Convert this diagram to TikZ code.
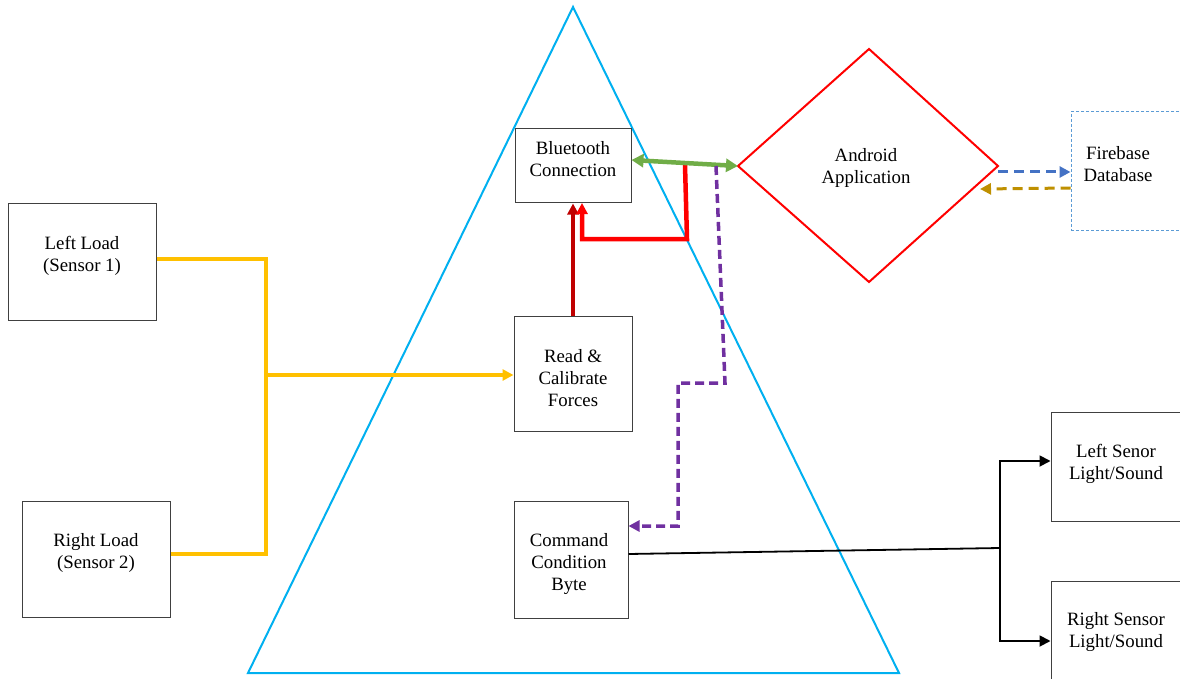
\documentclass[tikz,border=0pt]{standalone}
\usepackage{fontspec}
\setmainfont{Liberation Serif}
\usetikzlibrary{arrows.meta}
\definecolor{tricyan}{RGB}{0,176,240}
\definecolor{yel}{RGB}{255,192,0}
\definecolor{dred}{RGB}{192,0,0}
\definecolor{grn}{RGB}{112,173,71}
\definecolor{purp}{RGB}{112,48,160}
\definecolor{bl}{RGB}{68,114,196}
\definecolor{gold}{RGB}{191,144,0}
\definecolor{fbblue}{RGB}{91,155,213}
\tikzset{
  box/.style={draw=black!75, line width=1pt, inner sep=0pt, fill=none},
  txt/.style={font=\fontsize{18.8}{22}\selectfont, align=center, inner sep=0pt},
  tip/.style={-{Triangle[length=11pt,width=11pt]}},
}
\begin{document}
\begin{tikzpicture}[x=1pt,y=-1pt]
\useasboundingbox (0,0) rectangle (1180,679);
\clip (0,0) rectangle (1180,679);
\fill[white] (0,0) rectangle (1180,679);
% triangle
\draw[tricyan, line width=2pt] (573,7) -- (248,673) -- (899,673) -- cycle;
% boxes
\node[box, minimum width=116pt, minimum height=74pt] (bt) at (573,166) {};
\node[box, minimum width=118pt, minimum height=115pt] (rc) at (573,373.5) {};
\node[box, minimum width=114pt, minimum height=117pt] (cc) at (571,559.5) {};
\node[box, minimum width=148pt, minimum height=116pt] (ll) at (82,262) {};
\node[box, minimum width=148pt, minimum height=116pt] (rl) at (96,559) {};
\node[box, draw=fbblue, dash pattern=on 3pt off 2pt, minimum width=140pt, minimum height=118pt] (fb) at (1141,171) {};
\node[box, minimum width=140pt, minimum height=109pt] (ls) at (1121,466.5) {};
\node[box, minimum width=140pt, minimum height=120pt] (rs) at (1121,641) {};
% diamond
\coordinate (dl) at (738,166);
\coordinate (dt) at (869,49);
\coordinate (dr) at (998,166);
\coordinate (db) at (869,282);
\draw[red, line width=2pt] (dl) -- (dt) -- (dr) -- (db) -- cycle;
% texts
\node[txt] (btt) at (573,159) {Bluetooth\\Connection};
\node[txt] (rct) at (573,378) {Read \&\\Calibrate\\Forces};
\node[txt] (cct) at (569,564) {Command\\Condition\\Byte};
\node[txt] (llt) at (82,256) {Left Load\\(Sensor 1)};
\node[txt] (rlt) at (96,553) {Right Load\\(Sensor 2)};
\node[txt] (aat) at (866,168) {Android\\Application};
\node[txt] (fbt) at (1118,164) {Firebase\\Database};
\node[txt] (lst) at (1116,464) {Left Senor\\Light/Sound};
\node[txt] (rst) at (1116,632) {Right Sensor\\Light/Sound};
% yellow connectors
\coordinate (yj) at (266,375);
\draw[yel, line width=4pt] (ll.east |- 0,259) -- (266,259) -- (266,554) -- (rl.east |- 0,554);
\draw[yel, line width=4pt, tip] (yj) -- (rc.west |- yj);
% dark red
\draw[dred, line width=4.5pt, tip] (rc.north) -- (bt.south);
% red
\coordinate (r1) at (685,165);
\draw[red, line width=4.5pt, tip] (r1) -- (687,239) -- (582,239) -- (582,203);
% green double arrow
\draw[grn, line width=4.5pt, {Triangle[length=12pt,width=13pt]}-{Triangle[length=12pt,width=13pt]}] (bt.east |- 0,160) -- (dl);
% purple dashed
\coordinate (p0) at (716,166);
\draw[purp, line width=3.5pt, dash pattern=on 9pt off 5pt, tip] (p0) -- (725,383) -- (678,383) -- (678,526) -- (cc.east |- 0,526);
% firebase arrows
\draw[bl, line width=3pt, dash pattern=on 10pt off 6pt, tip] (dr |- 0,172) -- (fb.west |- 0,172);
\draw[gold, line width=3pt, dash pattern=on 10pt off 6pt, tip] (fb.west |- 0,188) -- (980,189);
% black
\coordinate (bj) at (1000,548);
\draw[black, line width=1.8pt] (cc.east |- 0,554) -- (bj);
\draw[black, line width=1.8pt, tip] (bj) -- (1000,461) -- (ls.west |- 0,461);
\draw[black, line width=1.8pt, tip] (bj) -- (1000,641) -- (rs.west |- 0,641);
\end{tikzpicture}
\end{document}
